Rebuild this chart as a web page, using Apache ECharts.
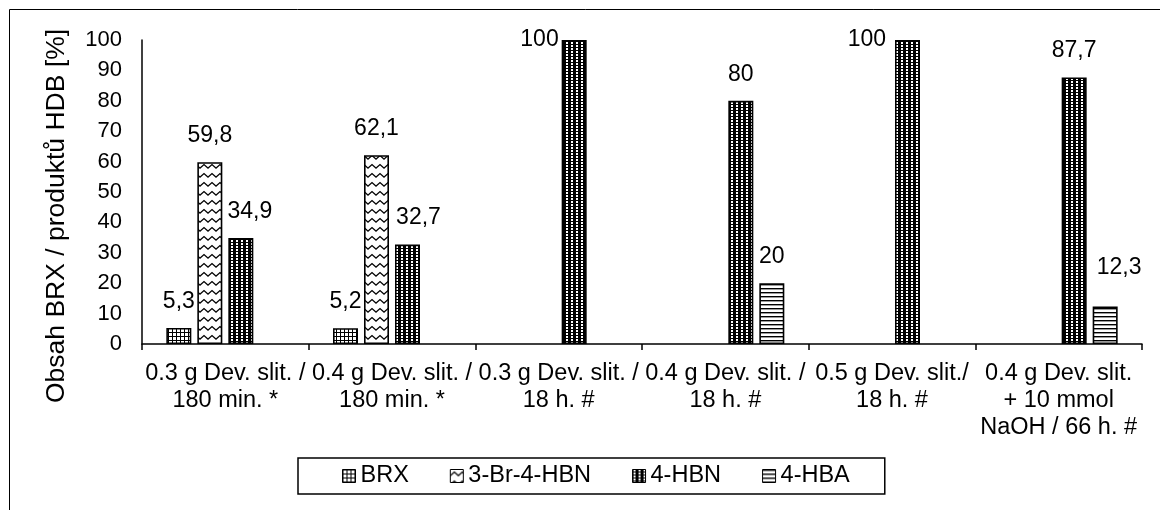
<!DOCTYPE html>
<html>
<head>
<meta charset="utf-8">
<script src="https://cdn.jsdelivr.net/npm/echarts@6/dist/echarts.min.js"></script>
<style>
  html, body { margin: 0; padding: 0; background: #fff; }
  #chart { width: 1160px; height: 510px; }
</style>
</head>
<body>
<div id="chart"></div>
<script>
// Categories (reaction conditions) and measured composition in %
const categories = [
  '0.3 g Dev. slit. /\n180 min. *',
  '0.4 g Dev. slit. /\n180 min. *',
  '0.3 g Dev. slit. /\n18 h. #',
  '0.4 g Dev. slit. /\n18 h. #',
  '0.5 g Dev. slit./\n18 h. #',
  '0.4 g Dev. slit.\n+ 10 mmol\nNaOH / 66 h. #'
];
const seriesNames = ['BRX', '3-Br-4-HBN', '4-HBN', '4-HBA'];
const brx   = [5.3, 5.2, '-', '-', '-', '-'];
const brHbn = [59.8, 62.1, '-', '-', '-', '-'];
const hbn   = [34.9, 32.7, 100, 80, 100, 87.7];
const hba   = ['-', '-', '-', 20, '-', 12.3];
const yMin = 0, yMax = 100, yStep = 10;
const yTitle = 'Obsah BRX / produktů HDB [%]';

const FONT = 'Liberation Sans, Arial, sans-serif';

// Monochrome fill patterns for the bars
function makePattern(w, h, draw) {
  const c = document.createElement('canvas');
  c.width = w; c.height = h;
  const ctx = c.getContext('2d');
  ctx.fillStyle = '#fff';
  ctx.fillRect(0, 0, w, h);
  draw(ctx, w, h);
  return { image: c, repeat: 'repeat' };
}
const patGrid = makePattern(4, 4, (ctx) => {
  ctx.fillStyle = '#000';
  ctx.fillRect(0, 0, 4, 1);
  ctx.fillRect(0, 0, 1, 4);
});
const patWave = makePattern(8, 9, (ctx) => {
  ctx.strokeStyle = '#000';
  ctx.lineWidth = 1.3;
  ctx.beginPath();
  ctx.moveTo(-1, 7);
  ctx.lineTo(4, 2.5);
  ctx.lineTo(9, 7);
  ctx.stroke();
});
const patDots = makePattern(5, 3, (ctx) => {
  ctx.fillStyle = '#000';
  ctx.fillRect(0, 0, 5, 3);
  ctx.fillStyle = '#fff';
  ctx.fillRect(1, 0, 2, 2);
});
const patLines = makePattern(4, 4, (ctx) => {
  ctx.fillStyle = '#000';
  ctx.fillRect(0, 0, 4, 1.4);
});
const patterns = [patGrid, patWave, patDots, patLines];

// Individual label placements (series index - data index)
const labelTweaks = {
  '2-0': { offset: [9, 0] },
  '2-1': { offset: [11, 0] },
  '3-5': { offset: [14, -12] },
  '2-2': { position: [-3, 0], align: 'right', verticalAlign: 'middle' },
  '2-4': { position: [-9, 0], align: 'right', verticalAlign: 'middle' }
};

const fmt = (p) => String(p.value).replace('.', ',');

function buildSeries(name, values, si) {
  return {
    name: name,
    type: 'bar',
    barWidth: 25,
    barGap: '24%',
    itemStyle: { color: patterns[si], borderColor: '#000', borderWidth: 1.6 },
    label: {
      show: true,
      position: 'top',
      distance: 15,
      color: '#000',
      fontFamily: FONT,
      fontSize: 23,
      formatter: fmt
    },
    data: values.map((v, i) => {
      const t = labelTweaks[si + '-' + i];
      return t ? { value: v, label: t } : v;
    })
  };
}

const chart = echarts.init(document.getElementById('chart'), null, { renderer: 'canvas' });
chart.setOption({
  animation: false,
  backgroundColor: '#fff',
  grid: { left: 142, right: 18, top: 40, bottom: 166, containLabel: false },
  xAxis: {
    type: 'category',
    data: categories,
    axisLine: { lineStyle: { color: '#000', width: 1.5 } },
    axisTick: { show: true, length: 6, lineStyle: { color: '#000', width: 1.5 } },
    axisLabel: {
      interval: 0,
      color: '#000',
      fontFamily: FONT,
      fontSize: 23.5,
      lineHeight: 27,
      margin: 16,
      align: 'center'
    }
  },
  yAxis: {
    type: 'value',
    min: yMin,
    max: yMax,
    interval: yStep,
    axisLine: { show: true, lineStyle: { color: '#000', width: 1.5 } },
    axisTick: { show: false },
    splitLine: { show: false },
    axisLabel: { color: '#000', fontFamily: FONT, fontSize: 22, margin: 20 }
  },
  legend: {
    data: seriesNames,
    left: 298,
    top: 458,
    orient: 'horizontal',
    icon: 'rect',
    itemWidth: 13,
    itemHeight: 13,
    itemGap: 41,
    padding: [6, 35, 6, 44],
    borderColor: '#000',
    borderWidth: 1.5,
    textStyle: { color: '#000', fontFamily: FONT, fontSize: 23.5 },
    itemStyle: { borderColor: '#000', borderWidth: 1 }
  },
  graphic: [
    {
      type: 'rect',
      silent: true,
      shape: { x: 9.5, y: 9.5, width: 1300, height: 700 },
      style: { fill: null, stroke: '#000', lineWidth: 1 }
    },
    {
      type: 'text',
      silent: true,
      x: 57,
      y: 216,
      rotation: Math.PI / 2,
      style: {
        text: yTitle,
        fill: '#000',
        font: '26.5px ' + FONT,
        align: 'center',
        verticalAlign: 'middle'
      }
    }
  ],
  series: [
    buildSeries(seriesNames[0], brx, 0),
    buildSeries(seriesNames[1], brHbn, 1),
    buildSeries(seriesNames[2], hbn, 2),
    buildSeries(seriesNames[3], hba, 3)
  ]
});
</script>
</body>
</html>
